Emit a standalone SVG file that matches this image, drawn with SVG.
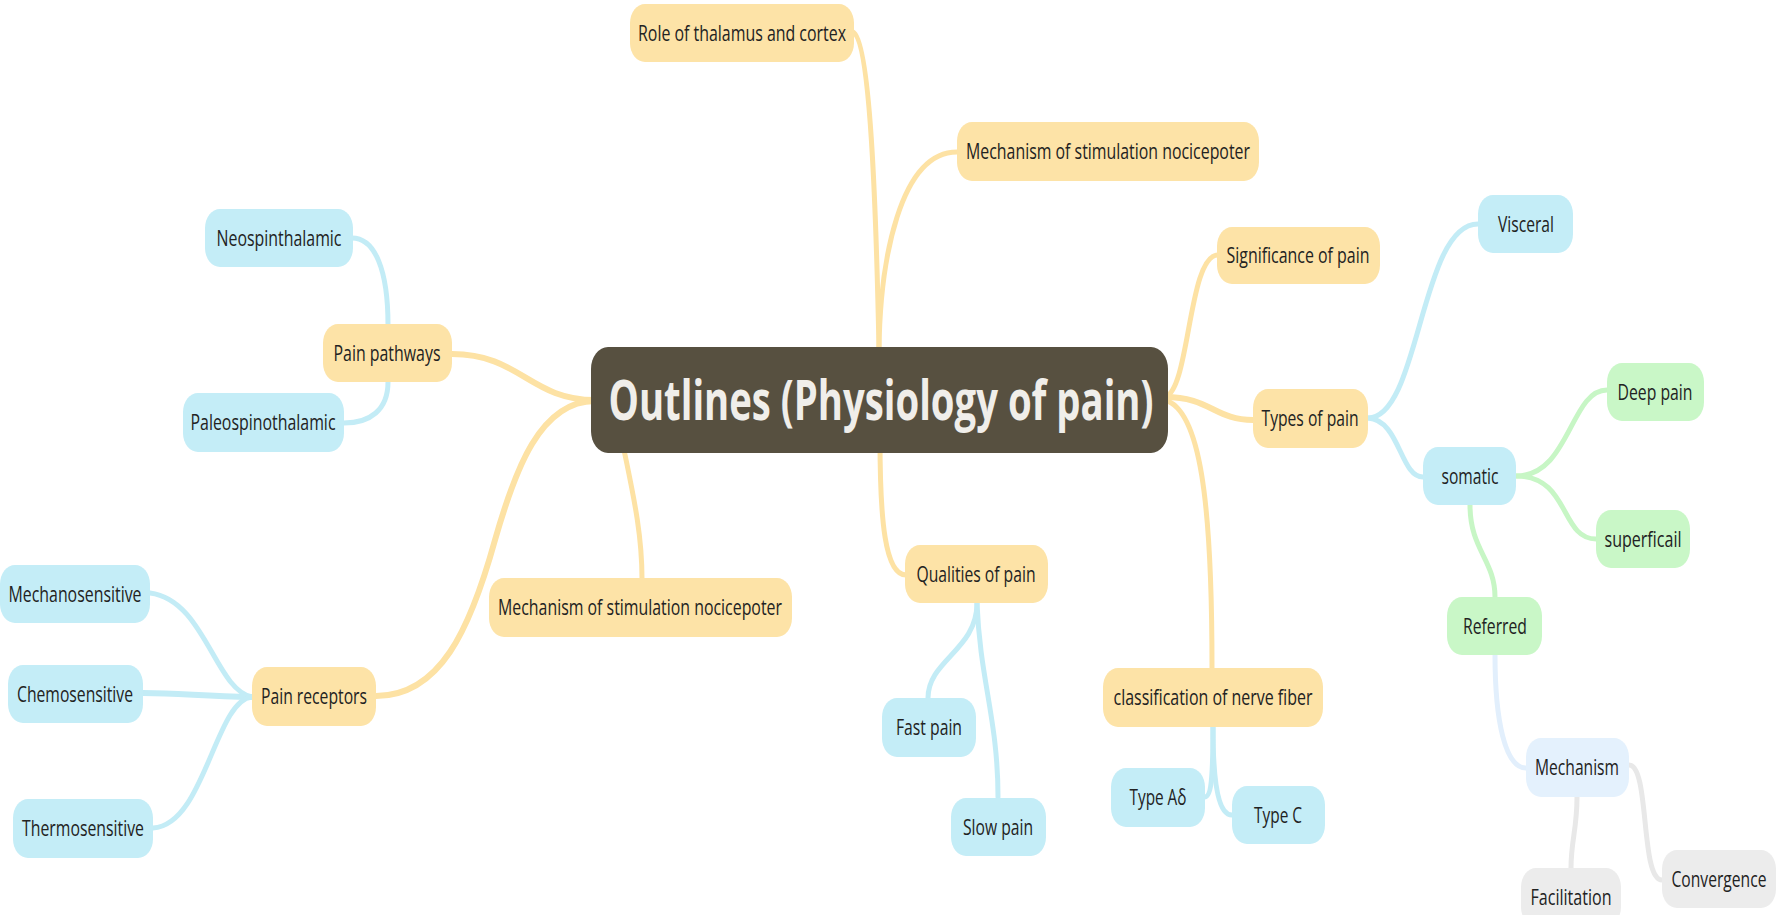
<svg xmlns="http://www.w3.org/2000/svg" width="1776" height="915" viewBox="0 0 1776 915">
<style>
.c{fill:none;stroke-width:5;stroke-linecap:round}
.o{stroke:#fde2a4}
.b{stroke:#c3ecf6}
.g{stroke:#c7f6c5}
.lb{stroke:#e2effc}
.gr{stroke:#e8e8e8}
.n rect{rx:15px;ry:19px}
.fo{fill:#fde3a7}
.fb{fill:#c4edf7}
.fg{fill:#c9f7c7}
.flb{fill:#e4f1fd}
.fgr{fill:#ececec}
.n text{font-family:"Open Sans","Noto Sans","Liberation Sans",sans-serif;font-size:22px;fill:#222;text-anchor:middle}
</style>
<rect width="1776" height="915" fill="#ffffff"/>
<g id="connectors">
<path class="c o" d="M452,354 C520,354 530,400 595,400" style="stroke-width:6"/>
<path class="c o" d="M595,401 C540,401 515,470 495,540 C470,630 440,696 376,696" style="stroke-width:6"/>
<path class="c o" d="M622,440 C632,490 642,530 642,579"/>
<path class="c o" d="M880,440 C880,520 885,575 906,575"/>
<path class="c o" d="M879,350 C876,200 870,40 853,32"/>
<path class="c o" d="M879,350 C880,260 900,152 957,152"/>
<path class="c o" d="M1165,397 C1190,390 1188,255 1218,255"/>
<path class="c o" d="M1165,397 C1210,397 1215,420 1253,420" style="stroke-width:6"/>
<path class="c o" d="M1165,400 C1200,410 1212,500 1212,668"/>
<path class="c b" d="M388,325 C388,270 375,238 352,238"/>
<path class="c b" d="M388,382 C388,410 370,423 344,423"/>
<path class="c b" d="M252,697 C215,690 205,600 150,593"/>
<path class="c b" d="M252,697 C200,696 180,693 143,693" style="stroke-width:6"/>
<path class="c b" d="M252,697 C215,700 205,825 153,828"/>
<path class="c b" d="M977,603 C977,650 928,660 928,698"/>
<path class="c b" d="M977,603 C980,680 998,720 998,797"/>
<path class="c b" d="M1213,727 C1213,770 1212,797 1205,797"/>
<path class="c b" d="M1213,727 C1213,790 1220,815 1232,815"/>
<path class="c b" d="M1368,418 C1420,418 1420,224 1478,224"/>
<path class="c b" d="M1368,418 C1400,420 1400,477 1423,477"/>
<path class="c g" d="M1516,476 C1570,476 1570,390 1607,390"/>
<path class="c g" d="M1516,476 C1570,476 1560,539 1596,539"/>
<path class="c g" d="M1470,505 C1470,550 1495,560 1495,597"/>
<path class="c lb" d="M1495,655 C1495,720 1505,768 1526,768"/>
<path class="c gr" d="M1629,765 C1650,765 1640,880 1662,880"/>
<path class="c gr" d="M1577,797 C1577,830 1571,840 1571,868"/>
</g>
<g id="central">
<rect x="591" y="347" width="577" height="106" rx="17" ry="22" fill="#575040"/>
<text x="881" y="420" font-family="'Open Sans','Noto Sans','Liberation Sans',sans-serif" font-size="56" font-weight="bold" fill="#f0eeea" text-anchor="middle" textLength="545" lengthAdjust="spacingAndGlyphs">Outlines (Physiology of pain)</text>
</g>
<g id="n-role" class="n"><rect class="fo" x="630" y="4" width="224" height="58"/><text x="742" y="41" textLength="208" lengthAdjust="spacingAndGlyphs">Role of thalamus and cortex</text></g>
<g id="n-mech-top" class="n"><rect class="fo" x="957" y="122" width="302" height="59"/><text x="1108" y="159" textLength="284" lengthAdjust="spacingAndGlyphs">Mechanism of stimulation nocicepoter</text></g>
<g id="n-signif" class="n"><rect class="fo" x="1217" y="227" width="163" height="57"/><text x="1298" y="263" textLength="143" lengthAdjust="spacingAndGlyphs">Significance of pain</text></g>
<g id="n-types" class="n"><rect class="fo" x="1253" y="389" width="115" height="59"/><text x="1310" y="426" textLength="97" lengthAdjust="spacingAndGlyphs">Types of pain</text></g>
<g id="n-class" class="n"><rect class="fo" x="1103" y="668" width="220" height="59"/><text x="1213" y="705" textLength="199" lengthAdjust="spacingAndGlyphs">classification of nerve fiber</text></g>
<g id="n-qual" class="n"><rect class="fo" x="905" y="545" width="143" height="58"/><text x="976" y="582" textLength="119" lengthAdjust="spacingAndGlyphs">Qualities of pain</text></g>
<g id="n-mech-bot" class="n"><rect class="fo" x="489" y="578" width="303" height="59"/><text x="640" y="615" textLength="284" lengthAdjust="spacingAndGlyphs">Mechanism of stimulation nocicepoter</text></g>
<g id="n-painrec" class="n"><rect class="fo" x="252" y="667" width="124" height="59"/><text x="314" y="704" textLength="106" lengthAdjust="spacingAndGlyphs">Pain receptors</text></g>
<g id="n-painpath" class="n"><rect class="fo" x="323" y="324" width="129" height="58"/><text x="387" y="361" textLength="107" lengthAdjust="spacingAndGlyphs">Pain pathways</text></g>
<g id="n-neo" class="n"><rect class="fb" x="205" y="209" width="148" height="58"/><text x="279" y="246" textLength="125" lengthAdjust="spacingAndGlyphs">Neospinthalamic</text></g>
<g id="n-paleo" class="n"><rect class="fb" x="183" y="393" width="161" height="59"/><text x="263" y="430" textLength="145" lengthAdjust="spacingAndGlyphs">Paleospinothalamic</text></g>
<g id="n-mechano" class="n"><rect class="fb" x="0" y="565" width="150" height="58"/><text x="75" y="602" textLength="133" lengthAdjust="spacingAndGlyphs">Mechanosensitive</text></g>
<g id="n-chemo" class="n"><rect class="fb" x="8" y="665" width="135" height="58"/><text x="75" y="702" textLength="116" lengthAdjust="spacingAndGlyphs">Chemosensitive</text></g>
<g id="n-thermo" class="n"><rect class="fb" x="13" y="799" width="140" height="59"/><text x="83" y="836" textLength="122" lengthAdjust="spacingAndGlyphs">Thermosensitive</text></g>
<g id="n-fast" class="n"><rect class="fb" x="882" y="698" width="94" height="59"/><text x="929" y="735" textLength="66" lengthAdjust="spacingAndGlyphs">Fast pain</text></g>
<g id="n-slow" class="n"><rect class="fb" x="951" y="798" width="95" height="58"/><text x="998" y="835" textLength="70" lengthAdjust="spacingAndGlyphs">Slow pain</text></g>
<g id="n-typea" class="n"><rect class="fb" x="1111" y="768" width="94" height="59"/><text x="1158" y="805" textLength="57" lengthAdjust="spacingAndGlyphs">Type Aδ</text></g>
<g id="n-typec" class="n"><rect class="fb" x="1232" y="786" width="93" height="58"/><text x="1278" y="823" textLength="48" lengthAdjust="spacingAndGlyphs">Type C</text></g>
<g id="n-visceral" class="n"><rect class="fb" x="1478" y="195" width="95" height="58"/><text x="1526" y="232" textLength="56" lengthAdjust="spacingAndGlyphs">Visceral</text></g>
<g id="n-somatic" class="n"><rect class="fb" x="1423" y="447" width="93" height="58"/><text x="1470" y="484" textLength="57" lengthAdjust="spacingAndGlyphs">somatic</text></g>
<g id="n-deep" class="n"><rect class="fg" x="1607" y="363" width="97" height="58"/><text x="1655" y="400" textLength="75" lengthAdjust="spacingAndGlyphs">Deep pain</text></g>
<g id="n-superf" class="n"><rect class="fg" x="1596" y="510" width="94" height="58"/><text x="1643" y="547" textLength="77" lengthAdjust="spacingAndGlyphs">superficail</text></g>
<g id="n-referred" class="n"><rect class="fg" x="1447" y="597" width="95" height="58"/><text x="1495" y="634" textLength="64" lengthAdjust="spacingAndGlyphs">Referred</text></g>
<g id="n-mechanism" class="n"><rect class="flb" x="1526" y="738" width="103" height="59"/><text x="1577" y="775" textLength="84" lengthAdjust="spacingAndGlyphs">Mechanism</text></g>
<g id="n-facil" class="n"><rect class="fgr" x="1521" y="868" width="100" height="58"/><text x="1571" y="905" textLength="81" lengthAdjust="spacingAndGlyphs">Facilitation</text></g>
<g id="n-conv" class="n"><rect class="fgr" x="1662" y="850" width="114" height="58"/><text x="1719" y="887" textLength="95" lengthAdjust="spacingAndGlyphs">Convergence</text></g>
</svg>
